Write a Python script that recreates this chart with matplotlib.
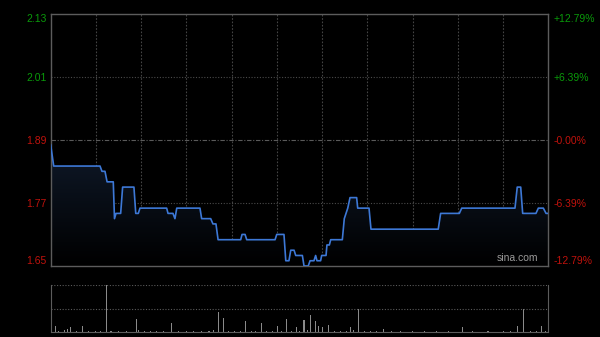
import numpy as np
import matplotlib
matplotlib.use('Agg')
import matplotlib.pyplot as plt
from matplotlib.colors import LinearSegmentedColormap

# intraday price, minutes from open (330 trading minutes), vertices of the line
minutes = [0, 2, 32.7, 34, 36, 37.4, 41.5, 42.3, 43.3, 46.4, 47.7, 55.2, 56.4, 58.1,
           59.2, 76.9, 77.8, 81.1, 82.4, 83.6, 99, 100.1, 106.1, 107.6, 109.6, 111,
           126, 126.9, 128.9, 130, 148.8, 149.9, 154.7, 155.9, 158, 159.2, 161.4,
           162.5, 166.9, 168, 170.8, 172, 174.6, 175.7, 176.6, 179, 179.7, 182.6,
           183.2, 184.8, 185.7, 193.4, 194.7, 197, 198.5, 202.9, 203.6, 211.1,
           212.4, 257, 258.6, 271, 272.6, 307.9, 309.4, 311.7, 313, 321.8, 323.4,
           326.7, 328.5, 330]
prices = [1.88, 1.84, 1.84, 1.83, 1.83, 1.81, 1.81, 1.74, 1.75, 1.75, 1.80, 1.80, 1.75, 1.75,
          1.76, 1.76, 1.75, 1.75, 1.74, 1.76, 1.76, 1.74, 1.74, 1.73, 1.73, 1.70,
          1.70, 1.71, 1.71, 1.70, 1.70, 1.71, 1.71, 1.66, 1.66, 1.68, 1.68,
          1.67, 1.67, 1.65, 1.65, 1.66, 1.66, 1.67, 1.66, 1.66, 1.67, 1.67,
          1.69, 1.69, 1.70, 1.70, 1.74, 1.76, 1.78, 1.78, 1.76, 1.76,
          1.72, 1.72, 1.75, 1.75, 1.76, 1.76, 1.80, 1.80, 1.75, 1.75, 1.76,
          1.76, 1.75, 1.75]

prev_close = 1.89
yticks = [1.65, 1.77, 1.89, 2.01, 2.13]
ylabels = ['1.65', '1.77', '1.89', '2.01', '2.13']
pct_labels = ['-12.79%', '-6.39%', '-0.00%', '+6.39%', '+12.79%']

# volume bars (relative units, 2 = top of panel)
vol_min = [3, 5, 9, 11, 13.3, 17, 20.8, 25, 30, 33, 36.9, 40, 45, 50, 56.9, 58, 62, 66, 70,
           75, 80.4, 85, 90, 95, 100, 105, 108, 111.3, 114.5, 118, 122, 126, 129.5, 133,
           136, 139.5, 143, 147, 150.4, 153, 156.4, 160, 163.1, 165, 168, 170, 172.6,
           175.3, 177.5, 180.4, 184.1, 188, 192, 196, 199, 201, 204, 208, 212, 216,
           220.6, 226, 232, 240, 248, 256, 264, 273, 280, 290, 300, 305, 309.4, 313.4,
           318, 322, 325.6, 328]
vol = [0.26, 0.06, 0.08, 0.12, 0.23, 0.05, 0.27, 0.04, 0.05, 0.06, 2.0, 0.04, 0.05, 0.04,
       0.54, 0.1, 0.05, 0.04, 0.06, 0.04, 0.40, 0.05, 0.04, 0.05, 0.06, 0.04, 0.1, 0.86,
       0.58, 0.05, 0.06, 0.05, 0.47, 0.05, 0.06, 0.39, 0.05, 0.04, 0.26, 0.06, 0.54,
       0.05, 0.2, 0.06, 0.51, 0.08, 0.72, 0.47, 0.27, 0.2, 0.3, 0.05, 0.04, 0.06, 0.2,
       0.1, 1.0, 0.04, 0.05, 0.04, 0.13, 0.04, 0.05, 0.04, 0.04, 0.05, 0.06, 0.2, 0.04,
       0.05, 0.04, 0.05, 0.27, 1.0, 0.04, 0.05, 0.27, 0.06]

W, H = 600, 337
fig = plt.figure(figsize=(6, 3.37), dpi=100, facecolor='black')

def px(l, t, r, b):
    return [l / W, 1 - b / H, (r - l) / W, (b - t) / H]

ax = fig.add_axes(px(50.7, 13.5, 548.3, 266))
ax.set_facecolor('black')
ax.set_xlim(0, 330)
ax.set_ylim(1.65, 2.13)

# gradient fill under the line
poly = ax.fill_between(minutes, prices, 1.65, color='none', lw=0)
cmap = LinearSegmentedColormap.from_list('f', ['#000000', '#0f1929'])
grad = np.linspace(0, 1, 256).reshape(-1, 1)
im = ax.imshow(grad, cmap=cmap, aspect='auto', extent=[0, 330, 1.65, 1.88],
               origin='lower', zorder=1)
im.set_clip_path(poly.get_paths()[0], transform=ax.transData)
ax.plot(minutes, prices, color='#3d78d6', lw=1.2, zorder=3)

# grid
for gx in np.arange(30, 330, 30):
    ax.axvline(gx, color='#444444', lw=0.8, ls=(0, (1.5, 1.5)), zorder=0)
for gy in [1.77, 2.01]:
    ax.axhline(gy, color='#4a4a4a', lw=0.8, ls=(0, (1, 1.5)), zorder=0)
ax.axhline(prev_close, color='#5a5a5a', lw=0.8, ls=(0, (4, 1.5, 1, 1.5)), zorder=0)

for s in ax.spines.values():
    s.set_color('#5c5c5c')
    s.set_linewidth(1.0)
ax.set_xticks([])
green, red = '#0a9a0a', '#c0120c'
cols = [red, red, red, green, green]
ax.set_yticks(yticks)
ax.set_yticklabels(ylabels, fontsize=7.5, family='Liberation Sans')
ax.tick_params(axis='y', length=0, pad=3)
for t, c in zip(ax.get_yticklabels(), cols):
    t.set_color(c)
ax.get_yticklabels()[0].set_va('bottom')
ax.get_yticklabels()[-1].set_va('top')

ax2 = ax.twinx()
ax2.set_ylim(ax.get_ylim())
ax2.set_yticks(yticks)
ax2.set_yticklabels(pct_labels, fontsize=7.5, family='Liberation Sans')
ax2.tick_params(axis='y', length=0, pad=4)
for t, c in zip(ax2.get_yticklabels(), cols):
    t.set_color(c)
ax2.get_yticklabels()[0].set_va('bottom')
ax2.get_yticklabels()[-1].set_va('top')
for s in ax2.spines.values():
    s.set_visible(False)

ax.text(0.98, 0.01, 'sina.com', transform=ax.transAxes, ha='right', va='bottom',
        color='#9a9a9a', fontsize=7.5, family='Liberation Sans', zorder=5)

# volume panel
vax = fig.add_axes(px(50.7, 285, 548.3, 332))
vax.set_facecolor('black')
vax.set_xlim(0, 330)
vax.set_ylim(0, 2.0)
vax.bar(vol_min, vol, width=0.7, color='#8a8a8a', lw=0)
vax.axhline(1.0, color='#5a5a5a', lw=0.8, ls=(0, (1, 1.5)))
vax.axhline(2.0, color='#5a5a5a', lw=0.8, ls=(0, (1, 1.5)))
vax.spines['top'].set_visible(False)
for k in ['left', 'right', 'bottom']:
    vax.spines[k].set_color('#5c5c5c')
vax.set_xticks([])
vax.set_yticks([])

fig.savefig('out.png', dpi=100, facecolor='black')
